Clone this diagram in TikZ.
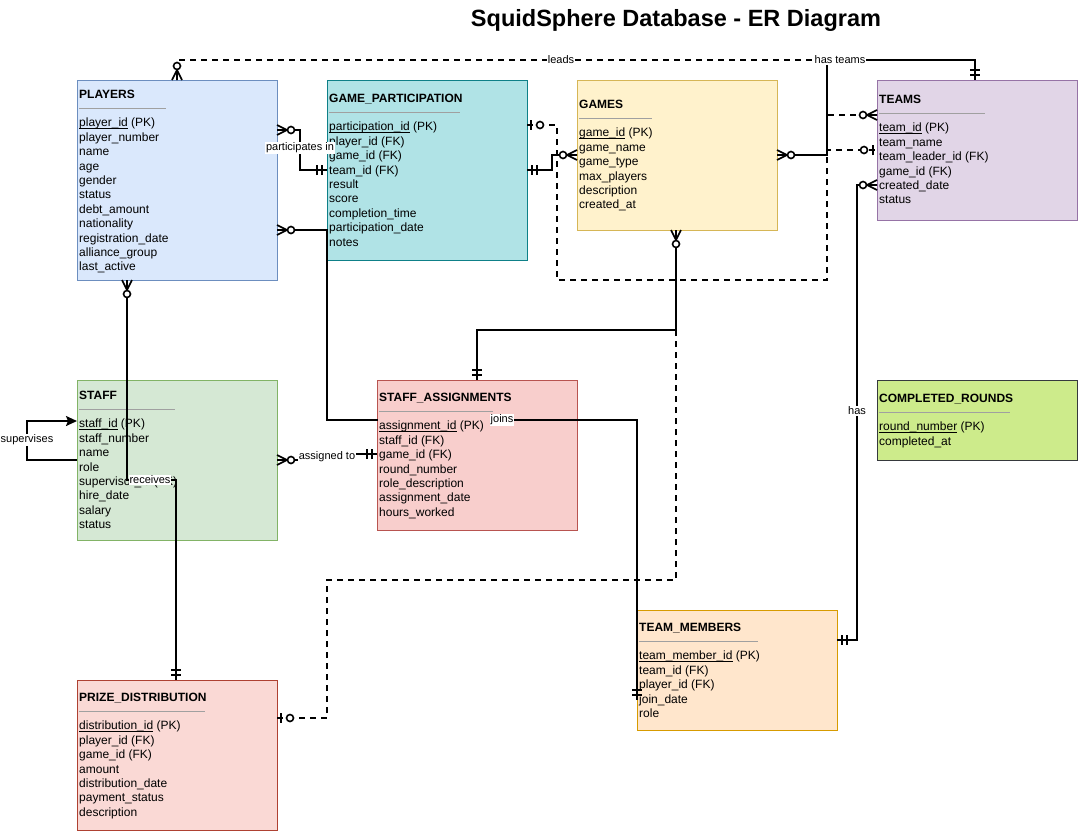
\documentclass[tikz,border=0pt]{standalone}
\usepackage{fontspec}
\setmainfont{Liberation Sans}
\usetikzlibrary{arrows.meta}

\definecolor{plf}{HTML}{DAE8FC}\definecolor{pld}{HTML}{6C8EBF}
\definecolor{gpf}{HTML}{B0E3E6}\definecolor{gpd}{HTML}{0E8088}
\definecolor{gaf}{HTML}{FFF2CC}\definecolor{gad}{HTML}{D6B656}
\definecolor{tef}{HTML}{E1D5E7}\definecolor{ted}{HTML}{9673A6}
\definecolor{stf}{HTML}{D5E8D4}\definecolor{std}{HTML}{82B366}
\definecolor{saf}{HTML}{F8CECC}\definecolor{sad}{HTML}{B85450}
\definecolor{crf}{HTML}{CDEB8B}\definecolor{crd}{HTML}{36393D}
\definecolor{tmf}{HTML}{FFE6CC}\definecolor{tmd}{HTML}{D79B00}
\definecolor{pdf}{HTML}{FAD9D5}\definecolor{pdd}{HTML}{AE4132}
\definecolor{sepc}{HTML}{A0A0A0}

\newcommand\myul[1]{\setbox0\hbox{#1}\rlap{\rule[-1.7pt]{\wd0}{0.7pt}}\box0\relax}

\tikzset{
  ebox/.style={rectangle, line width=1pt, inner sep=0pt, outer sep=0pt, anchor=north west},
  etitle/.style={anchor=base west, inner sep=0pt, font=\bfseries\fontsize{12}{14.4}\selectfont},
  efield/.style={anchor=base west, inner sep=0pt, font=\fontsize{12}{14.4}\selectfont},
  sepline/.style={draw=sepc, line width=1pt},
  rel/.style={draw=black, line width=1.8pt, line join=miter},
  reldash/.style={rel, dash pattern=on 6pt off 5pt},
  mk/.style={draw=black, line width=1.6pt},
  elabel/.style={fill=white, inner sep=1pt, font=\fontsize{11}{13}\selectfont},
  zeromany/.pic={\draw[mk] (0,-5)--(10,0)--(0,5) (0,0)--(10,0); \draw[mk,fill=white] (14,0) circle (3.5pt);},
  zeroone/.pic={\draw[mk] (4,-5)--(4,5); \draw[mk,fill=white] (13,0) circle (3.5pt);},
  mandone/.pic={\draw[mk] (5,-5)--(5,5) (10,-5)--(10,5);}
}

\newcommand\entitytext[6]{%
  \node[etitle] (#1-title) at (#2+2,#3+4.2) {#4};
  \draw[sepline] (#2+2,#3+14) -- ++(#5,0);
  \foreach \f [count=\i from 0] in {#6} {\node[efield] (#1-f\i) at (#2+2,#3+28.6+\i*14.4+4.2) {\f};}
}

\begin{document}
\begin{tikzpicture}[x=1pt,y=-1pt]
\useasboundingbox (0,0) rectangle (1078,831);
\fill[white] (0,0) rectangle (1078,831);

\node[font=\bfseries\fontsize{23.5}{28}\selectfont] (title) at (676,20) {SquidSphere Database - ER Diagram};

% entity boxes
\node[ebox, fill=plf, draw=pld, minimum width=200pt, minimum height=200pt] (players) at (77,80) {};
\node[ebox, fill=gpf, draw=gpd, minimum width=200pt, minimum height=180pt] (gp) at (327,80) {};
\node[ebox, fill=gaf, draw=gad, minimum width=200pt, minimum height=150pt] (games) at (577,80) {};
\node[ebox, fill=tef, draw=ted, minimum width=200pt, minimum height=140pt] (teams) at (877,80) {};
\node[ebox, fill=stf, draw=std, minimum width=200pt, minimum height=160pt] (staff) at (77,380) {};
\node[ebox, fill=saf, draw=sad, minimum width=200pt, minimum height=150pt] (sa) at (377,380) {};
\node[ebox, fill=crf, draw=crd, minimum width=200pt, minimum height=80pt] (cr) at (877,380) {};
\node[ebox, fill=tmf, draw=tmd, minimum width=200pt, minimum height=120pt] (tm) at (637,610) {};
\node[ebox, fill=pdf, draw=pdd, minimum width=200pt, minimum height=150pt] (pd) at (77,680) {};

% relationships
% leads (dashed)
\draw[reldash] (players.north) -- (players.north |- 0,60) -- (827,60) -- (827,115) -- (teams.west |- 0,115);
% game participation team (dashed)
\draw[reldash] (gp.east |- 0,125) -- (557,125) -- (557,280) -- (827,280) -- (827,150) -- (teams.west |- 0,150);
% prize distribution game (dashed)
\draw[reldash] (pd.east |- 0,718) -- (327,718) -- (327,580) -- (676,580) -- (games.south -| 676,0);
% has teams
\draw[rel] (games.east |- 0,155) -- (827,155) -- (827,60) -- (975,60) -- (teams.north -| 975,0);
% participates in
\draw[rel] (players.east |- 0,130) -- (300,130) -- (300,170) -- (gp.west |- 0,170);
% gp - games
\draw[rel] (gp.east |- 0,170) -- (552,170) -- (552,155) -- (games.west |- 0,155);
% games - staff assignments
\draw[rel] (games.south -| 676,0) -- (676,330) -- (477,330) -- (sa.north -| 477,0);
% joins
\draw[rel] (players.east |- 0,230) -- (327,230) -- (327,420) -- (637,420) -- (tm.west |- 0,700);
% receives
\draw[rel] (players.south -| 127,0) -- (127,480) -- (176,480) -- (pd.north -| 176,0);
% supervises
\draw[rel, -{Stealth[length=11pt,width=10pt,inset=2pt]}] (staff.west |- 0,460) -- (27,460) -- (27,421) -- (staff.west |- 0,421);
% assigned to
\draw[rel] (staff.east |- 0,460) -- (327,460) -- (327,454) -- (sa.west |- 0,454);
% has
\draw[rel] (teams.west |- 0,185) -- (857,185) -- (857,640) -- (tm.east |- 0,640);

% label block of STAFF_ASSIGNMENTS (covers the joins line)
\node[fill=saf, inner sep=0pt, minimum width=112pt, minimum height=132pt, anchor=north west] (sa-block) at (378,388) {};

% entity texts
\entitytext{players}{77}{94}{PLAYERS}{87}{\myul{player\_id} (PK),player\_number,name,age,gender,status,debt\_amount,nationality,registration\_date,alliance\_group,last\_active}
\entitytext{gp}{327}{98}{GAME\_PARTICIPATION}{131}{\myul{participation\_id} (PK),player\_id (FK),game\_id (FK),team\_id (FK),result,score,completion\_time,participation\_date,notes}
\entitytext{games}{577}{104}{GAMES}{73}{\myul{game\_id} (PK),game\_name,game\_type,max\_players,description,created\_at}
\entitytext{teams}{877}{99}{TEAMS}{106}{\myul{team\_id} (PK),team\_name,team\_leader\_id (FK),game\_id (FK),created\_date,status}
\entitytext{staff}{77}{395}{STAFF}{96}{\myul{staff\_id} (PK),staff\_number,name,role,supervisor\_id (FK),hire\_date,salary,status}
\entitytext{sa}{377}{397}{STAFF\_ASSIGNMENTS}{114}{\myul{assignment\_id} (PK),staff\_id (FK),game\_id (FK),round\_number,role\_description,assignment\_date,hours\_worked}
\entitytext{cr}{877}{398}{COMPLETED\_ROUNDS}{131}{\myul{round\_number} (PK),completed\_at}
\entitytext{tm}{637}{627}{TEAM\_MEMBERS}{119}{\myul{team\_member\_id} (PK),team\_id (FK),player\_id (FK),join\_date,role}
\entitytext{pd}{77}{697}{PRIZE\_DISTRIBUTION}{126}{\myul{distribution\_id} (PK),player\_id (FK),game\_id (FK),amount,distribution\_date,payment\_status,description}

% re-draw line parts lying over texts
\draw[rel] (127,400) -- (127,480);
\draw[rel] (tm.west |- 0,620) -- (tm.west |- 0,700);

% markers
\pic[rotate=90] at (players.north) {zeromany};
\pic[rotate=180] at (teams.west |- 0,115) {zeromany};
\pic at (gp.east |- 0,125) {zeroone};
\pic[rotate=180] at (teams.west |- 0,150) {zeroone};
\pic at (pd.east |- 0,718) {zeroone};
\pic[rotate=-90] at (games.south -| 676,0) {zeromany};
\pic at (games.east |- 0,155) {zeromany};
\pic[rotate=90] at (teams.north -| 975,0) {mandone};
\pic at (players.east |- 0,130) {zeromany};
\pic[rotate=180] at (gp.west |- 0,170) {mandone};
\pic at (gp.east |- 0,170) {mandone};
\pic[rotate=180] at (games.west |- 0,155) {zeromany};
\pic[rotate=90] at (sa.north -| 477,0) {mandone};
\pic at (players.east |- 0,230) {zeromany};
\pic[rotate=90] at (tm.west |- 0,700) {mandone};
\pic[rotate=-90] at (players.south -| 127,0) {zeromany};
\pic[rotate=90] at (pd.north -| 176,0) {mandone};
\pic at (staff.east |- 0,460) {zeromany};
\pic[rotate=180] at (sa.west |- 0,454) {mandone};
\pic[rotate=180] at (teams.west |- 0,185) {zeromany};
\pic at (tm.east |- 0,640) {mandone};

% edge labels
\node[elabel] (l-leads) at (561,60) {leads};
\node[elabel] (l-hasteams) at (840,60) {has teams};
\node[elabel] (l-part) at (300,148) {participates in};
\node[elabel] (l-joins) at (502,420) {joins};
\node[elabel] (l-receives) at (150,480) {receives};
\node[elabel] (l-superv) at (27,440) {supervises};
\node[elabel] (l-assigned) at (327,457) {assigned to};
\node[elabel] (l-has) at (857,411) {has};
\end{tikzpicture}
\end{document}
